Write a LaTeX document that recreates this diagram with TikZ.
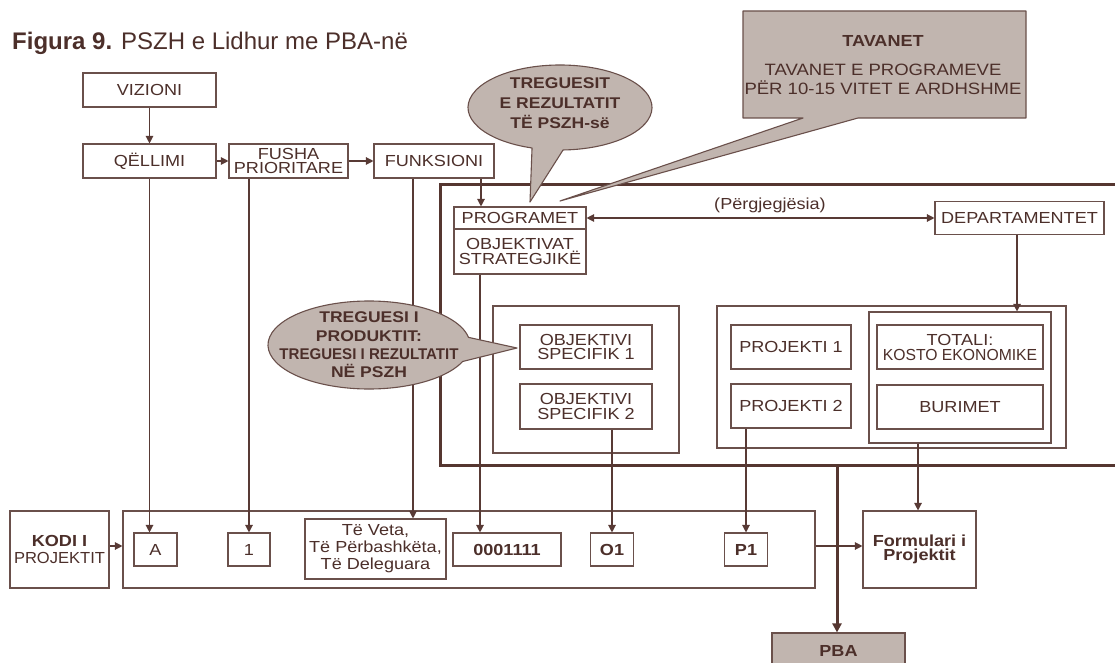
\documentclass[tikz,border=0pt]{standalone}
\usepackage{fontspec}
\usepackage{graphicx}
\setmainfont{Liberation Sans}[FakeStretch=1.13]
\newfontfamily\titlefont{Liberation Sans}
\usetikzlibrary{arrows.meta}
\definecolor{ln}{RGB}{106,80,75}
\definecolor{cn}{RGB}{88,58,53}
\definecolor{tk}{RGB}{85,54,48}
\definecolor{tx}{RGB}{76,47,42}
\definecolor{fl}{RGB}{193,181,175}
\newcommand{\myfs}[2]{\fontsize{#1}{#2}\selectfont\lineskiplimit=-100pt\relax}
\tikzset{
  box/.style={draw=ln, line width=1.1pt, inner sep=0pt, text=tx, fill=white},
  one/.style={box, font=\myfs{16}{16}, text height=11.5pt, text depth=0pt},
  oneb/.style={one, font=\bfseries\myfs{16}{16}},
  two/.style={box, align=center, font=\myfs{16}{14.5}},
  ctext/.style={inner sep=0pt, align=center, text=tx},
  arr/.style={draw=cn, line width=1.2pt, -{Triangle[length=7.5pt,width=7.5pt]}},
  darr/.style={draw=cn, line width=1.2pt, {Triangle[length=7.5pt,width=7.5pt]}-{Triangle[length=7.5pt,width=7.5pt]}},
  bubble/.style={draw=ln, fill=fl, line width=1.1pt, line join=round}
}
\begin{document}
\begin{tikzpicture}[x=1pt, y=-1pt]
\useasboundingbox (0,0) rectangle (1115,663);

% title
\node[anchor=base west, inner sep=0pt, text=tx, font=\titlefont\fontsize{24}{28}\selectfont] (title) at (12,50) {\textbf{Figura 9.} PSZH e Lidhur me PBA-në};

% thick frame
\draw[line width=3pt, draw=tk] (1120,184) -- (440,184) -- (440,465) -- (1120,465);

% top row
\node[one, minimum width=133pt, minimum height=34pt] (viz) at (149.5,90) {VIZIONI};
\node[one, minimum width=133pt, minimum height=34pt] (qel) at (149.5,161) {QËLLIMI};
\node[two, minimum width=119pt, minimum height=34pt] (fus) at (288.5,161) {FUSHA\\PRIORITARE};
\node[one, minimum width=120pt, minimum height=34pt] (fun) at (434,161) {FUNKSIONI};

% programet
\node[one, minimum width=132pt, minimum height=22pt] (prog) at (520,218) {PROGRAMET};
\node[two, font=\myfs{16}{15.5}, minimum width=132pt, minimum height=45pt] (obj) at (520,251.5) {OBJEKTIVAT\\STRATEGJIKË};
\node[one, minimum width=169pt, minimum height=33pt] (dep) at (1019.5,218) {DEPARTAMENTET};
\node[anchor=base, inner sep=0pt, text=tx, font=\myfs{16}{16}] (resp) at (770,209) {(Përgjegjësia)};

% objectives
\node[box, minimum width=186pt, minimum height=147pt] (objout) at (586,379.5) {};
\node[two, minimum width=132pt, minimum height=44pt] (os1) at (586,347) {OBJEKTIVI\\SPECIFIK 1};
\node[two, minimum width=132pt, minimum height=45pt] (os2) at (586,406.5) {OBJEKTIVI\\SPECIFIK 2};

% projects
\node[box, minimum width=349pt, minimum height=142pt] (projout) at (891.5,377) {};
\node[box, minimum width=182pt, minimum height=131pt] (totin) at (960,377.5) {};
\node[one, minimum width=120pt, minimum height=44pt] (pj1) at (791,347) {PROJEKTI 1};
\node[one, minimum width=120pt, minimum height=44pt] (pj2) at (791,406) {PROJEKTI 2};
\node[two, font=\myfs{16}{15}, minimum width=166pt, minimum height=44pt] (tot) at (960,347) {TOTALI:\\\scalebox{0.87}[1]{KOSTO EKONOMIKE}};
\node[one, minimum width=166pt, minimum height=44pt] (bur) at (960,407) {BURIMET};

% bottom row
\node[two, font=\myfs{16}{16.7}, minimum width=99pt, minimum height=77pt] (kodi) at (59.5,549.5) {\textbf{KODI I}\\\scalebox{0.915}[1]{PROJEKTIT}};
\node[box, minimum width=692pt, minimum height=77pt] (big) at (469,549.5) {};
\node[one, minimum width=43pt, minimum height=33pt] (ka) at (155.5,549.5) {A};
\node[one, minimum width=42pt, minimum height=33pt] (k1) at (249,549.5) {1};
\node[two, font=\myfs{16}{17}, minimum width=141pt, minimum height=60pt] (veta) at (375.5,549) {Të Veta,\\Të Përbashkëta,\\Të Deleguara};
\node[oneb, minimum width=108pt, minimum height=33pt] (code) at (507,549.5) {0001111};
\node[oneb, minimum width=43pt, minimum height=33pt] (ko1) at (612,549.5) {O1};
\node[oneb, minimum width=43pt, minimum height=33pt] (kp1) at (746,549.5) {P1};
\node[two, font=\bfseries\myfs{16}{14.5}, minimum width=113pt, minimum height=77pt] (form) at (919.5,549.5) {Formulari i\\Projektit};
\node[oneb, fill=fl, minimum width=133pt, minimum height=36pt] (pba) at (838.5,651) {PBA};

% connectors
\draw[arr] (viz) -- (qel);
\draw[arr] (qel) -- (fus);
\draw[arr] (fus) -- (fun);
\draw[arr] (qel.south) -- (ka.north -| qel.south);
\draw[arr] (fus.south -| k1.north) -- (k1.north);
\draw[arr] ([xshift=-21pt]fun.south) -- ([xshift=37.5pt]veta.north);
\draw[arr] ([xshift=47pt]fun.south) -- ([xshift=-39pt]prog.north);
\draw[arr] ([xshift=-40pt]obj.south) -- ([xshift=-27pt]code.north);
\draw[darr] (prog.east) -- (dep.west);
\draw[arr] ([xshift=-2.5pt]dep.south) -- ([xshift=57pt]totin.north);
\draw[arr] ([xshift=26pt]os2.south) -- (ko1.north);
\draw[arr] ([xshift=-45pt]pj2.south) -- (kp1.north);
\draw[arr] ([xshift=-42pt]totin.south) -- ([xshift=-1.5pt]form.north);
\draw[arr] ([yshift=3.5pt]kodi.east) -- ([yshift=3.5pt]big.west);
\draw[arr] ([yshift=3.5pt]big.east) -- ([yshift=3.5pt]form.west);
\coordinate (tb) at (837,465);
\draw[line width=3pt, draw=tk, -{Triangle[length=9pt,width=9pt]}] (tb) -- (pba.north -| tb);

% callouts
\filldraw[bubble] (743,11) -- (1026,11) -- (1026,118) -- (858,118) -- (560,201) -- (803,118) -- (743,118) -- cycle;
\node[ctext, font=\bfseries\myfs{16}{16}] (tavt) at (883,41) {TAVANET};
\node[ctext, font=\myfs{16.4}{19}] (tavb) at (883,79.5) {TAVANET E PROGRAMEVE\\PËR 10-15 VITET E ARDHSHME};

\filldraw[bubble] (560,107.5) ++(107.7:92 and 42.5) arc[start angle=107.7, end angle=448.1, x radius=92, y radius=42.5] -- (530,202) -- cycle;
\node[ctext, font=\bfseries\myfs{15.5}{20}] (c1t) at (560,103.5) {TREGUESIT\\E REZULTATIT\\TË PSZH-së};

\filldraw[bubble] (369,345) ++(22:101 and 44) arc[start angle=22, end angle=350, x radius=101, y radius=44] -- (517,348) -- cycle;
\node[ctext, font=\bfseries\myfs{15.5}{18.3}] (c2t) at (369,345) {TREGUESI I\\PRODUKTIT:\\\scalebox{0.86}[1]{TREGUESI I REZULTATIT}\\NË PSZH};
\end{tikzpicture}
\end{document}
